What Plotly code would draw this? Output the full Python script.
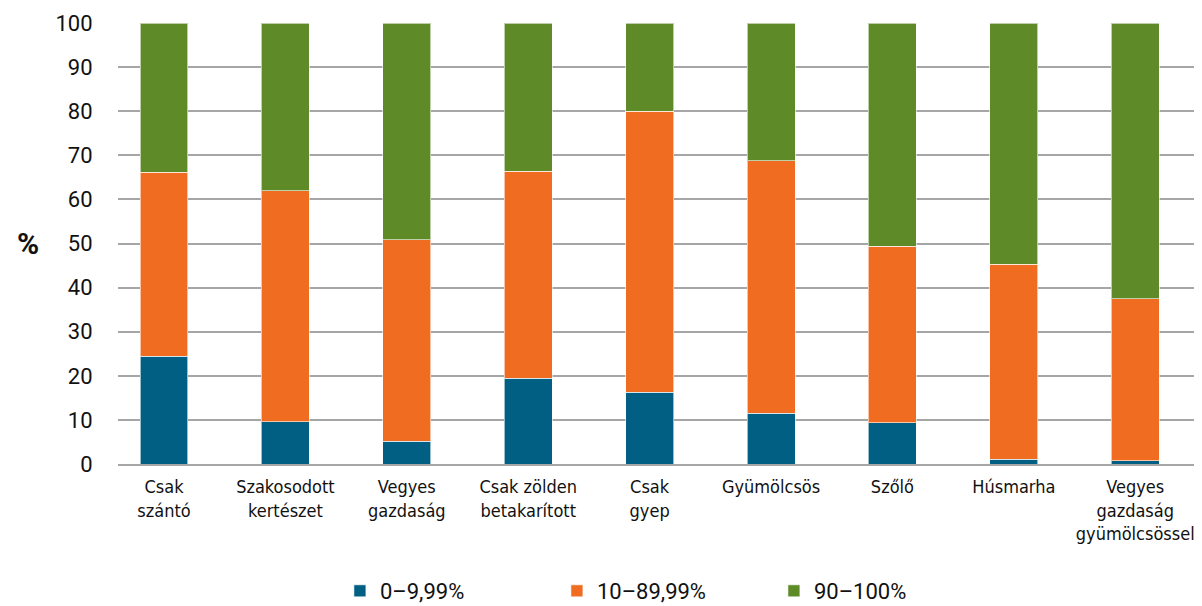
import plotly.graph_objects as go

categories = ["Csak<br>szántó", "Szakosodott<br>kertészet", "Vegyes<br>gazdaság",
              "Csak zölden<br>betakarított", "Csak<br>gyep", "Gyümölcsös", "Szőlő",
              "Húsmarha", "Vegyes<br>gazdaság<br>gyümölcsössel"]
low = [24.4, 9.6, 5.2, 19.4, 16.3, 11.5, 9.3, 1.1, 0.7]
mid = [41.8, 52.4, 45.7, 47.0, 63.7, 57.3, 40.1, 44.2, 36.8]
high = [33.8, 38.0, 49.1, 33.6, 20.0, 31.2, 50.6, 54.7, 62.5]
series_names = ["0–9,99%", "10–89,99%", "90–100%"]
colors = ["#005F83", "#EF6C20", "#5E8A28"]
ytick_vals = list(range(0, 101, 10))

XFONT = "DejaVu Sans Condensed, Roboto, sans-serif"
LFONT = "Roboto"
YFONT = "Roboto"

fig = go.Figure()
for name, vals, col in zip(series_names, [low, mid, high], colors):
    fig.add_trace(go.Bar(
        x=categories, y=vals, name=name,
        marker=dict(color=col, line=dict(color="rgba(255,255,255,0.6)", width=1)),
        hoverinfo="x+y+name",
    ))

fig.update_layout(
    barmode="stack",
    bargap=0.605,
    width=1194, height=598,
    margin=dict(l=110, r=0, t=15, b=142, autoexpand=False),
    plot_bgcolor="white", paper_bgcolor="white",
    font=dict(family="Roboto", size=19, color="#111111"),
    showlegend=True,
    legend=dict(orientation="h", x=0.505, xanchor="center", y=-0.288, yanchor="middle",
                font=dict(size=22, family=LFONT), entrywidth=172, itemwidth=30,
                traceorder="normal"),
    xaxis=dict(showgrid=False, showline=True, linecolor="#A6A6A6", linewidth=1.5,
               range=[-0.379, 8.55], ticklabelstandoff=6,
               ticks="", tickangle=0, tickfont=dict(size=18, family=XFONT), automargin=False),
    yaxis=dict(range=[0, 100], tickvals=ytick_vals, showgrid=True,
               gridcolor="#A6A6A6", gridwidth=1.5, zeroline=False,
               ticks="outside", ticklen=0, tickfont=dict(size=22, family=YFONT),
               ticklabelstandoff=20, automargin=False),
    annotations=[dict(text="<b>%</b>", x=-0.095, y=0.5, xref="paper", yref="paper",
                      showarrow=False, font=dict(size=30, family=YFONT, color="#111111"))],
)

fig.write_html("out.html")
